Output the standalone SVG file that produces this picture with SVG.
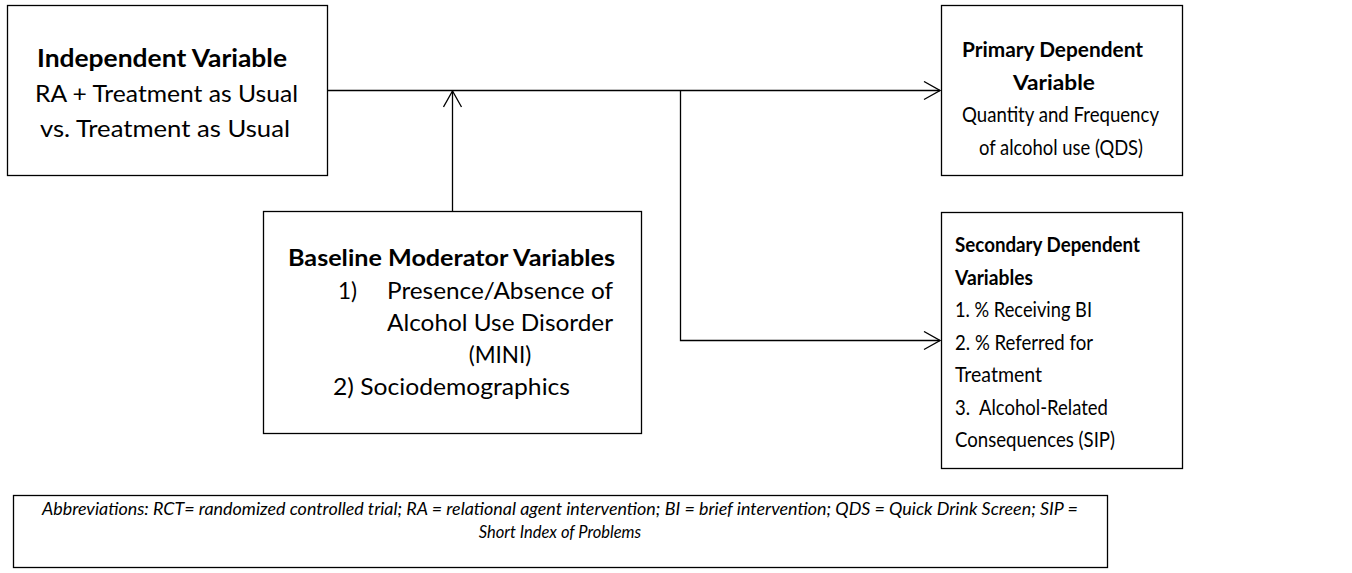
<svg xmlns="http://www.w3.org/2000/svg" width="1352" height="573" viewBox="0 0 1352 573">
<style>
.box{fill:#fff;stroke:#000;stroke-width:1.3}
.t{font-family:Lato,"Liberation Sans",sans-serif;font-size:22.5px;fill:#000}
.big{font-size:24px}
.sm{font-size:21.5px}
.b{font-weight:bold}
.m{text-anchor:middle}
.f{font-family:Lato,"Liberation Sans",sans-serif;font-size:16.5px;font-style:italic;fill:#000;text-anchor:middle}
.c{fill:none;stroke:#000;stroke-width:1.3}
</style>
<defs>
<marker id="arr" markerUnits="userSpaceOnUse" viewBox="0 0 18 20" refX="17" refY="10" markerWidth="18" markerHeight="20" orient="auto">
<path d="M1,1 L17,10 L1,19" fill="none" stroke="#000" stroke-width="1.3"/>
</marker>
</defs>
<rect width="1352" height="573" fill="#fff"/>
<g id="connectors">
<path class="c" d="M327,90.5 H940" marker-end="url(#arr)"/>
<path class="c" d="M452.5,211 V91" marker-end="url(#arr)"/>
<path class="c" d="M680.5,90.5 V340.5 H940" marker-end="url(#arr)"/>
</g>
<g id="independent">
<rect class="box" x="7.5" y="5.5" width="320" height="170"/>
<text class="t big b m" x="162" y="67" textLength="250" lengthAdjust="spacingAndGlyphs">Independent Variable</text>
<text class="t big m" x="166.5" y="102" textLength="263" lengthAdjust="spacingAndGlyphs">RA + Treatment as Usual</text>
<text class="t big m" x="165" y="137" textLength="250" lengthAdjust="spacingAndGlyphs">vs. Treatment as Usual</text>
</g>
<g id="primary">
<rect class="box" x="941.5" y="5.5" width="241" height="170"/>
<text class="t sm b m" x="1052.5" y="57" textLength="181" lengthAdjust="spacingAndGlyphs">Primary Dependent</text>
<text class="t sm b m" x="1054" y="90" textLength="82" lengthAdjust="spacingAndGlyphs">Variable</text>
<text class="t sm m" x="1060.5" y="122" textLength="197" lengthAdjust="spacingAndGlyphs">Quantity and Frequency</text>
<text class="t sm m" x="1061" y="155" textLength="164" lengthAdjust="spacingAndGlyphs">of alcohol use (QDS)</text>
</g>
<g id="moderator">
<rect class="box" x="263.5" y="211.5" width="378" height="222"/>
<text class="t b" x="288" y="266" textLength="327" lengthAdjust="spacingAndGlyphs">Baseline Moderator Variables</text>
<text class="t" x="338" y="299">1)</text>
<text class="t" x="387" y="299" textLength="226" lengthAdjust="spacingAndGlyphs">Presence/Absence of</text>
<text class="t" x="387" y="331" textLength="226" lengthAdjust="spacingAndGlyphs">Alcohol Use Disorder</text>
<text class="t m" x="500" y="363">(MINI)</text>
<text class="t" x="333" y="395" textLength="237" lengthAdjust="spacingAndGlyphs">2) Sociodemographics</text>
</g>
<g id="secondary">
<rect class="box" x="941.5" y="212.5" width="241" height="256"/>
<text class="t sm b" x="955" y="252" textLength="185" lengthAdjust="spacingAndGlyphs">Secondary Dependent</text>
<text class="t sm b" x="955" y="284.5" textLength="78" lengthAdjust="spacingAndGlyphs">Variables</text>
<text class="t sm" x="955" y="317" textLength="137" lengthAdjust="spacingAndGlyphs">1. % Receiving BI</text>
<text class="t sm" x="955" y="349.5" textLength="138" lengthAdjust="spacingAndGlyphs">2. % Referred for</text>
<text class="t sm" x="955" y="382" textLength="87" lengthAdjust="spacingAndGlyphs">Treatment</text>
<text class="t sm" x="955" y="414.5" textLength="153" lengthAdjust="spacingAndGlyphs" xml:space="preserve">3.  Alcohol-Related</text>
<text class="t sm" x="955" y="447" textLength="160" lengthAdjust="spacingAndGlyphs">Consequences (SIP)</text>
</g>
<g id="footer">
<rect class="box" x="13.5" y="495.5" width="1094" height="72"/>
<text class="f" x="560" y="515" textLength="1036" lengthAdjust="spacingAndGlyphs">Abbreviations: RCT= randomized controlled trial; RA = relational agent intervention; BI = brief intervention; QDS = Quick Drink Screen; SIP =</text>
<text class="f" x="560" y="538">Short Index of Problems</text>
</g>
</svg>
